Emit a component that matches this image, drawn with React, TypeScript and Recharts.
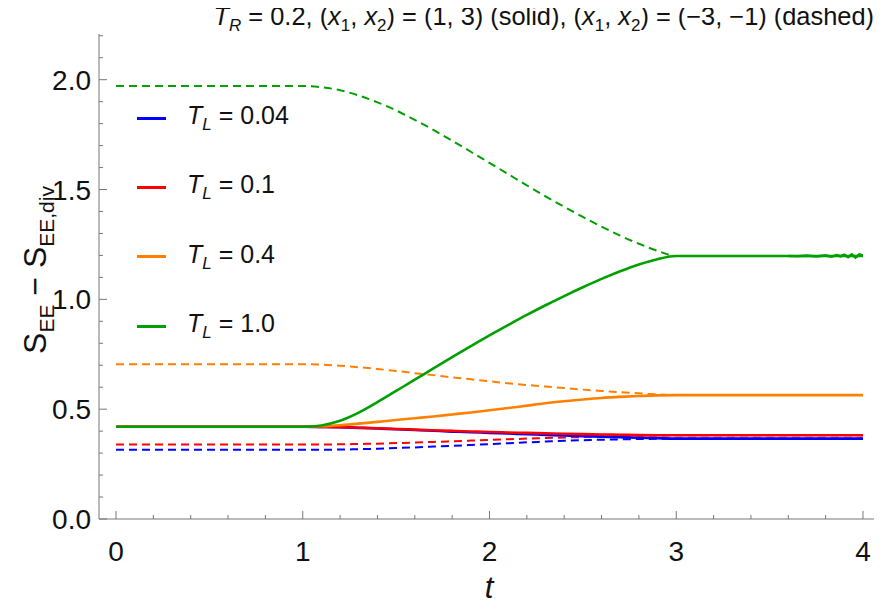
import React from 'react';
import { LineChart, Line, XAxis, YAxis } from 'recharts';

const tS = [0, 1.0, 1.1, 1.2, 1.3, 1.4, 1.5, 1.6, 1.7, 1.8, 1.9, 2.0, 2.1, 2.2, 2.3, 2.4, 2.5, 2.6, 2.7, 2.8, 2.9, 3.0, 4.0];

const blueSolid = [0.42, 0.42, 0.4195, 0.418, 0.415, 0.412, 0.4085, 0.405, 0.4015, 0.398, 0.395, 0.392, 0.389, 0.386, 0.383, 0.38, 0.3775, 0.375, 0.3725, 0.37, 0.368, 0.366, 0.366];
const redSolid = [0.42, 0.42, 0.4195, 0.418, 0.4155, 0.413, 0.41, 0.407, 0.404, 0.401, 0.3985, 0.396, 0.394, 0.392, 0.39, 0.388, 0.3865, 0.385, 0.3835, 0.382, 0.3815, 0.381, 0.381];
const orangeSolid = [0.42, 0.42, 0.422, 0.427, 0.434, 0.442, 0.451, 0.459, 0.467, 0.476, 0.485, 0.495, 0.505, 0.516, 0.527, 0.536, 0.544, 0.551, 0.556, 0.56, 0.563, 0.564, 0.564];
const greenSolidMain = [0.42, 0.42, 0.426, 0.447, 0.484, 0.532, 0.583, 0.634, 0.686, 0.737, 0.787, 0.836, 0.883, 0.929, 0.973, 1.015, 1.055, 1.093, 1.128, 1.159, 1.183, 1.197, 1.197];
const greenTailT = [3.6, 3.65, 3.7, 3.75, 3.8, 3.83, 3.86, 3.88, 3.9, 3.92, 3.94, 3.96, 3.98, 4.0];
const greenTailV = [1.197, 1.196, 1.199, 1.195, 1.2, 1.194, 1.201, 1.196, 1.203, 1.192, 1.205, 1.19, 1.204, 1.2];

const blueDashed = [0.315, 0.315, 0.3155, 0.316, 0.318, 0.32, 0.323, 0.326, 0.3295, 0.333, 0.337, 0.341, 0.345, 0.349, 0.3525, 0.356, 0.3585, 0.361, 0.3625, 0.364, 0.365, 0.366, 0.366];
const redDashed = [0.339, 0.339, 0.3392, 0.34, 0.3415, 0.343, 0.3455, 0.348, 0.351, 0.354, 0.357, 0.36, 0.363, 0.366, 0.3685, 0.371, 0.373, 0.375, 0.377, 0.379, 0.38, 0.381, 0.381];
const orangeDashed = [0.705, 0.705, 0.703, 0.698, 0.691, 0.683, 0.674, 0.664, 0.655, 0.645, 0.636, 0.627, 0.618, 0.61, 0.603, 0.596, 0.589, 0.583, 0.577, 0.572, 0.567, 0.564, 0.564];
const greenDashed = [1.971, 1.971, 1.966, 1.952, 1.928, 1.897, 1.86, 1.817, 1.771, 1.722, 1.672, 1.621, 1.57, 1.519, 1.469, 1.421, 1.375, 1.331, 1.29, 1.253, 1.221, 1.197, 1.197];

const xTicks = [0, 0.2, 0.4, 0.6, 0.8, 1, 1.2, 1.4, 1.6, 1.8, 2, 2.2, 2.4, 2.6, 2.8, 3, 3.2, 3.4, 3.6, 3.8, 4];
const yTicks = [0, 0.1, 0.2, 0.3, 0.4, 0.5, 0.6, 0.7, 0.8, 0.9, 1, 1.1, 1.2, 1.3, 1.4, 1.5, 1.6, 1.7, 1.8, 1.9, 2, 2.1, 2.2];
const xMajor = [0, 1, 2, 3, 4];
const yMajor = [0, 0.5, 1, 1.5, 2];

const legendLabels = ['0.04', '0.1', '0.4', '1.0'];
const colors = ['#0000ff', '#ff0000', '#ff8000', '#00a000'];

const mk = (ts: number[], vs: number[]) => ts.map((t, i) => ({ t, v: vs[i] }));

const FONT = '"Liberation Sans", Arial, sans-serif';
const AX = '#777';

const isMajor = (v: number, majors: number[]) => majors.some((m) => Math.abs(m - v) < 1e-6);

const BottomTick = (p: any) => {
  const v = p.payload.value;
  const maj = isMajor(v, xMajor);
  return (
    <g>
      <line x1={p.x} x2={p.x} y1={p.y} y2={p.y - (maj ? 8 : 4)} stroke={AX} strokeWidth={1} />
      {maj && (
        <text x={p.x} y={p.y + 42} textAnchor="middle" fontSize={28} fontFamily={FONT} fill="#111">
          {String(v)}
        </text>
      )}
    </g>
  );
};
const TopTick = (p: any) => {
  const v = p.payload.value;
  const maj = isMajor(v, xMajor);
  return <line x1={p.x} x2={p.x} y1={p.y} y2={p.y + (maj ? 8 : 4)} stroke={AX} strokeWidth={1} />;
};
const LeftTick = (p: any) => {
  const v = p.payload.value;
  const maj = isMajor(v, yMajor);
  return (
    <g>
      <line x1={p.x} x2={p.x + (maj ? 8 : 4)} y1={p.y} y2={p.y} stroke={AX} strokeWidth={1} />
      {maj && (
        <text x={p.x - 8} y={p.y + 10} textAnchor="end" fontSize={28} fontFamily={FONT} fill="#111">
          {v.toFixed(1)}
        </text>
      )}
    </g>
  );
};
const RightTick = (p: any) => {
  const v = p.payload.value;
  const maj = isMajor(v, yMajor);
  return <line x1={p.x} x2={p.x - (maj ? 8 : 4)} y1={p.y} y2={p.y} stroke={AX} strokeWidth={1} />;
};

const subStyle = { fontSize: 17, fontStyle: 'italic' as const };
const subN = { fontSize: 17 };

export default function App() {
  const solids = [blueSolid, redSolid, orangeSolid];
  const dashes = [blueDashed, redDashed, orangeDashed, greenDashed];
  return (
    <div style={{ position: 'relative', width: 875, height: 601, fontFamily: FONT, color: '#111' }}>
      <LineChart width={875} height={601} margin={{ top: 26, right: 9, left: 0, bottom: 0 }}>
        <XAxis xAxisId="b" dataKey="t" type="number" domain={[-0.091, 4.059]} ticks={xTicks} interval={0}
          tick={<BottomTick />} tickLine={false} tickSize={0} tickMargin={0} axisLine={{ stroke: AX }} height={90} allowDataOverflow />
        <XAxis xAxisId="t" orientation="top" dataKey="t" type="number" domain={[-0.091, 4.059]} ticks={xTicks} interval={0}
          tick={<TopTick />} tickLine={false} tickSize={0} tickMargin={0} axisLine={{ stroke: AX }} height={0} allowDataOverflow />
        <YAxis yAxisId="l" type="number" domain={[0, 2.208]} ticks={yTicks} interval={0}
          tick={<LeftTick />} tickLine={false} tickSize={0} tickMargin={0} axisLine={{ stroke: AX }} width={91} allowDataOverflow />
        <YAxis yAxisId="r" orientation="right" type="number" domain={[0, 2.208]} ticks={yTicks} interval={0}
          tick={<RightTick />} tickLine={false} tickSize={0} tickMargin={0} axisLine={{ stroke: AX }} width={0} allowDataOverflow />
        {dashes.map((d, i) => (
          <Line key={'d' + i} xAxisId="b" yAxisId="l" data={mk(tS, d)} dataKey="v" type="monotone" stroke={colors[i]}
            strokeWidth={2} strokeDasharray="8 5" dot={false} isAnimationActive={false} />
        ))}
        {solids.map((d, i) => (
          <Line key={'s' + i} xAxisId="b" yAxisId="l" data={mk(tS, d)} dataKey="v" type="monotone" stroke={colors[i]}
            strokeWidth={2.6} dot={false} isAnimationActive={false} />
        ))}
        <Line xAxisId="b" yAxisId="l" data={mk(tS, greenSolidMain)} dataKey="v" type="monotone" stroke={colors[3]}
          strokeWidth={2.6} dot={false} isAnimationActive={false} />
        <Line xAxisId="b" yAxisId="l" data={mk(greenTailT, greenTailV)} dataKey="v" type="linear" stroke={colors[3]}
          strokeWidth={2.6} dot={false} isAnimationActive={false} />
      </LineChart>

      <div style={{ position: 'absolute', right: 9, top: -9, fontSize: 25.4, whiteSpace: 'nowrap', lineHeight: '34px' }}>
        <i>T</i><sub style={subStyle}>R</sub> = 0.2, (<i>x</i><sub style={subN}>1</sub>, <i>x</i><sub style={subN}>2</sub>) = (1, 3) (solid), (<i>x</i><sub style={subN}>1</sub>, <i>x</i><sub style={subN}>2</sub>) = (−3, −1) (dashed)
      </div>

      {legendLabels.map((l, i) => (
        <div key={l} style={{ position: 'absolute', left: 129, top: 109 + i * 69.4 - 14, height: 30, display: 'flex', alignItems: 'center', whiteSpace: 'nowrap' }}>
          <div style={{ width: 29, height: 3, background: colors[i], marginRight: 21 }} />
          <span style={{ fontSize: 25 }}>
            <i>T</i><sub style={{ fontSize: 17, fontStyle: 'italic' }}>L</sub> = {l}
          </span>
        </div>
      ))}

      <div style={{ position: 'absolute', left: 30, top: 262, transform: 'translate(-50%, -50%) rotate(-90deg)', fontSize: 32, whiteSpace: 'nowrap' }}>
        S<sub style={{ fontSize: 21 }}>EE</sub> − S<sub style={{ fontSize: 21 }}>EE,div</sub>
      </div>

      <div style={{ position: 'absolute', left: 481, top: 580, transform: 'translate(-50%, -50%)', fontSize: 31, fontStyle: 'italic' }}>
        t
      </div>
    </div>
  );
}
